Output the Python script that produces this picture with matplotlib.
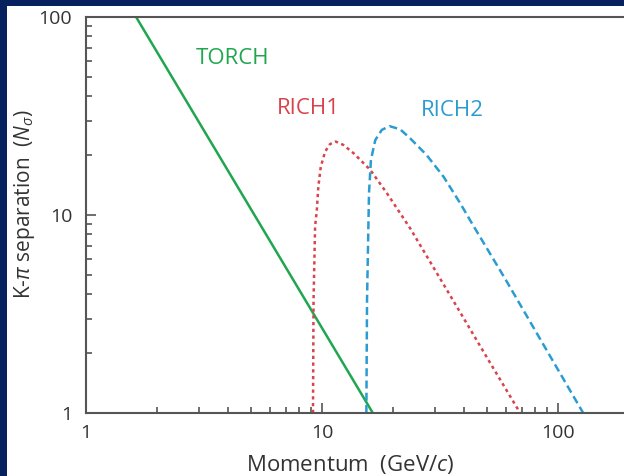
import matplotlib.pyplot as plt
from matplotlib.patches import Rectangle
from matplotlib.ticker import LogLocator, NullFormatter, FixedFormatter, FixedLocator

plt.rcParams['font.family'] = ['Open Sans', 'DejaVu Sans']
plt.rcParams['mathtext.fontset'] = 'custom'
plt.rcParams['mathtext.rm'] = 'Open Sans'
plt.rcParams['mathtext.it'] = 'Open Sans:italic'

# data (momentum in GeV/c, separation in N sigma)
torch_p = [1.63, 16.4]
torch_n = [100, 1]

rich1_p = [9.15, 9.2, 9.34, 9.50, 9.64, 9.87, 10.3, 10.8, 11.4, 12.3, 13.6,
           16.0, 18.8, 23.6, 35.9, 50.0, 69.0]
rich1_n = [1.0, 3.7, 8.73, 10.6, 13.9, 17.5, 20.9, 22.8, 23.5, 22.6, 20.5,
           16.9, 12.9, 8.57, 3.7, 1.9, 1.0]

rich2_p = [15.4, 15.5, 15.7, 15.8, 16.1, 16.8, 17.9, 19.3, 21.4, 23.6, 27.7,
           32.7, 38.4, 43.1, 60.0, 85.0, 127.6]
rich2_n = [1.0, 3.7, 8.57, 12.9, 19.0, 23.9, 26.9, 28.1, 27.1, 24.4, 20.1,
           15.6, 11.5, 9.08, 4.7, 2.3, 1.0]

navy = '#06215e'
green = '#1fa64f'
red = '#d9434c'
blue = '#2b9cd2'
grey = '#555555'

fig = plt.figure(figsize=(6.24, 4.76), dpi=100, facecolor=navy)
# white panel inside the navy frame
fig.patches.append(Rectangle((7 / 624, 0), 1, 1 - 6 / 476, transform=fig.transFigure,
                             facecolor='white', edgecolor='none', zorder=-10))

ax = fig.add_axes([86 / 624, 1 - 413 / 476, 1 - 86 / 624, (413 - 17) / 476])
ax.set_zorder(5)
ax.set_facecolor('white')

ax.plot(torch_p, torch_n, color=green, lw=1.8)
ax.plot(rich1_p, rich1_n, color=red, lw=1.8, linestyle=(0, (1.3, 1.4)))
ax.plot(rich2_p, rich2_n, color=blue, lw=1.8, linestyle=(0, (3.2, 1.7)))

ax.set_xscale('log')
ax.set_yscale('log')
ax.set_xlim(1, 190)
ax.set_ylim(1, 100)

ax.text(2.93, 62, 'TORCH', color=green, fontsize=16, ha='left', va='center')
ax.text(6.45, 34.5, 'RICH1', color=red, fontsize=16, ha='left', va='center')
ax.text(26.3, 33.8, 'RICH2', color=blue, fontsize=16, ha='left', va='center')

for s in ['left', 'bottom', 'top']:
    ax.spines[s].set_color(grey)
    ax.spines[s].set_linewidth(1.5)
ax.spines['right'].set_visible(False)

ax.xaxis.set_major_locator(FixedLocator([1, 10, 100]))
ax.xaxis.set_major_formatter(FixedFormatter(['1', '10', '100']))
ax.yaxis.set_major_locator(FixedLocator([1, 10, 100]))
ax.yaxis.set_major_formatter(FixedFormatter(['1', '10', '100']))
ax.xaxis.set_minor_locator(LogLocator(base=10, subs=range(2, 10)))
ax.yaxis.set_minor_locator(LogLocator(base=10, subs=range(2, 10)))
ax.xaxis.set_minor_formatter(NullFormatter())
ax.yaxis.set_minor_formatter(NullFormatter())
ax.tick_params(which='major', direction='in', length=7, width=1.2, color=grey,
               labelsize=14, labelcolor='#333333', pad=8, top=False, right=False)
ax.tick_params(which='minor', direction='in', length=4, width=1.2, color=grey,
               top=False, right=False)
ax.tick_params(axis='y', which='major', pad=10)

ax.set_xlabel('Momentum  (GeV/$c$)', fontsize=16, color='#333333', va='center')
ax.set_ylabel('K-$\\pi$ separation  ($N_\\sigma$)', fontsize=15, color='#333333', va='center')
ax.xaxis.set_label_coords((350 - 86) / (624 - 86), -(464 - 413) / 396)
ax.yaxis.set_label_coords(-(86 - 25) / (624 - 86), (413 - 204) / 396)

fig.savefig('out.png', dpi=100, facecolor=navy)
